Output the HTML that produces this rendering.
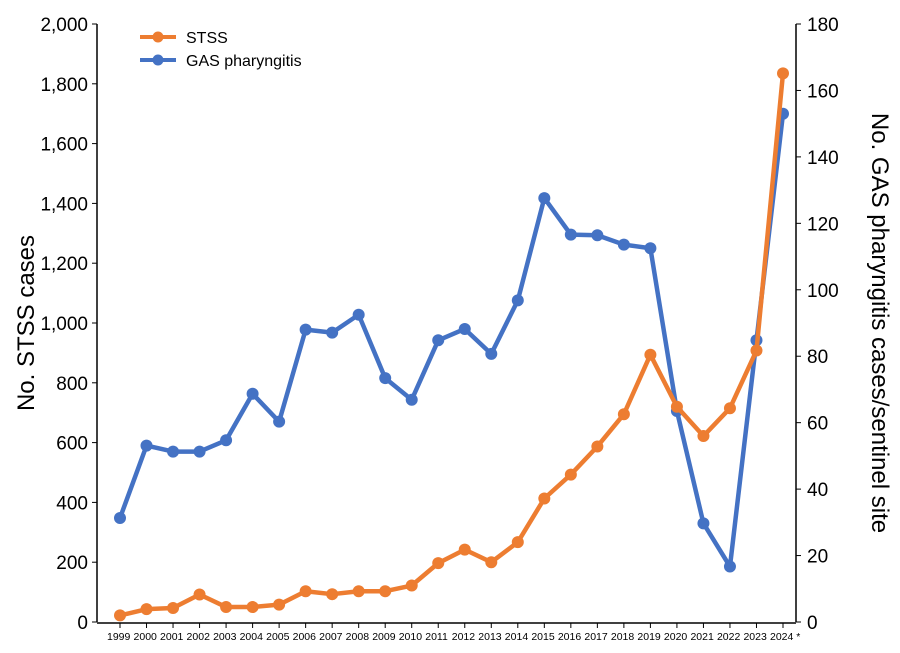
<!DOCTYPE html>
<html><head><meta charset="utf-8"><style>
body{margin:0;background:#fff;font-family:"Liberation Sans",sans-serif}
svg text{font-family:"Liberation Sans",sans-serif;fill:#000}
</style></head><body>
<svg id="chart" width="900" height="648" viewBox="0 0 900 648">
<g id="axes"></g><g id="series"></g>
<g>
 <g><line x1="140" y1="37" x2="176" y2="37" stroke="#ED7D31" stroke-width="4"/><circle cx="158" cy="37" r="5.5" fill="#ED7D31"/><text x="186" y="43" font-size="16">STSS</text></g>
 <g><line x1="140" y1="60" x2="176" y2="60" stroke="#4472C4" stroke-width="4"/><circle cx="158" cy="60" r="5.5" fill="#4472C4"/><text x="186" y="66" font-size="16">GAS pharyngitis</text></g>
</g>
<text transform="translate(34,323) rotate(-90)" text-anchor="middle" font-size="24">No. STSS cases</text>
<text transform="translate(872,323) rotate(90)" text-anchor="middle" font-size="24">No. GAS pharyngitis cases/sentinel site</text>
</svg>
<script>
const years=["1999","2000","2001","2002","2003","2004","2005","2006","2007","2008","2009","2010","2011","2012","2013","2014","2015","2016","2017","2018","2019","2020","2021","2022","2023","2024 *"];
const stss=[22,43,47,92,50,50,58,103,93,103,103,122,197,242,200,267,413,493,587,695,894,720,622,715,908,1835];
const gas=[31.3,53.1,51.3,51.3,54.7,68.7,60.3,88,87.1,92.5,73.4,66.9,84.8,88.2,80.7,96.8,127.6,116.6,116.4,113.6,112.5,63.5,29.7,16.7,84.8,153];
const leftTicks=[0,200,400,600,800,1000,1200,1400,1600,1800,2000];
const rightTicks=[0,20,40,60,80,100,120,140,160,180];
const NS="http://www.w3.org/2000/svg";
const X0=97,X1=796,Y0=622,Y1=24;
const xs=i=>120+i*(783-120)/(years.length-1);
const yl=v=>Y0-v/2000*(Y0-Y1);
const yr=v=>Y0-v/180*(Y0-Y1);
function mk(t,a,p){const e=document.createElementNS(NS,t);for(const k in a)e.setAttribute(k,a[k]);p.appendChild(e);return e;}
const ax=document.getElementById('axes'),se=document.getElementById('series');
let e;
e=mk('line',{x1:X0,y1:Y0,x2:X0,y2:Y1,stroke:'#000','stroke-width':1.5},ax);


e=mk('line',{x1:X1,y1:Y0,x2:X1,y2:Y1,stroke:'#000','stroke-width':1.5},ax);


e=mk('line',{x1:X0,y1:Y0+1,x2:X1,y2:Y0+1,stroke:'#000','stroke-width':1.5},ax);


leftTicks.forEach(v=>{mk('line',{x1:X0-5,y1:yl(v),x2:X0,y2:yl(v),stroke:'#000'},ax);
 e=mk('text',{x:88,y:yl(v)+7,'text-anchor':'end','font-size':19},ax);e.textContent=v.toLocaleString('en-US');
 
 });
rightTicks.forEach(v=>{mk('line',{x1:X1,y1:yr(v),x2:X1+5,y2:yr(v),stroke:'#000'},ax);
 e=mk('text',{x:807,y:yr(v)+7,'font-size':19},ax);e.textContent=v;
 
 });
years.forEach((y,i)=>{mk('line',{x1:xs(i),y1:Y0+1,x2:xs(i),y2:Y0+6,stroke:'#000'},ax);
 e=mk('text',{x:xs(i)-13,y:640,'font-size':10.5},ax);e.textContent=y;
 
 });
function draw(vals,fy,col,name){
 e=mk('polyline',{points:vals.map((v,i)=>xs(i)+','+fy(v)).join(' '),fill:'none',stroke:col,'stroke-width':4.5,'stroke-linejoin':'round'},se);
 
 
 vals.forEach((v,i)=>{e=mk('circle',{cx:xs(i),cy:fy(v),r:6,fill:col},se);
  
  });
}
draw(gas,yr,'#4472C4','gas');
draw(stss,yl,'#ED7D31','stss');
</script>
</body></html>
